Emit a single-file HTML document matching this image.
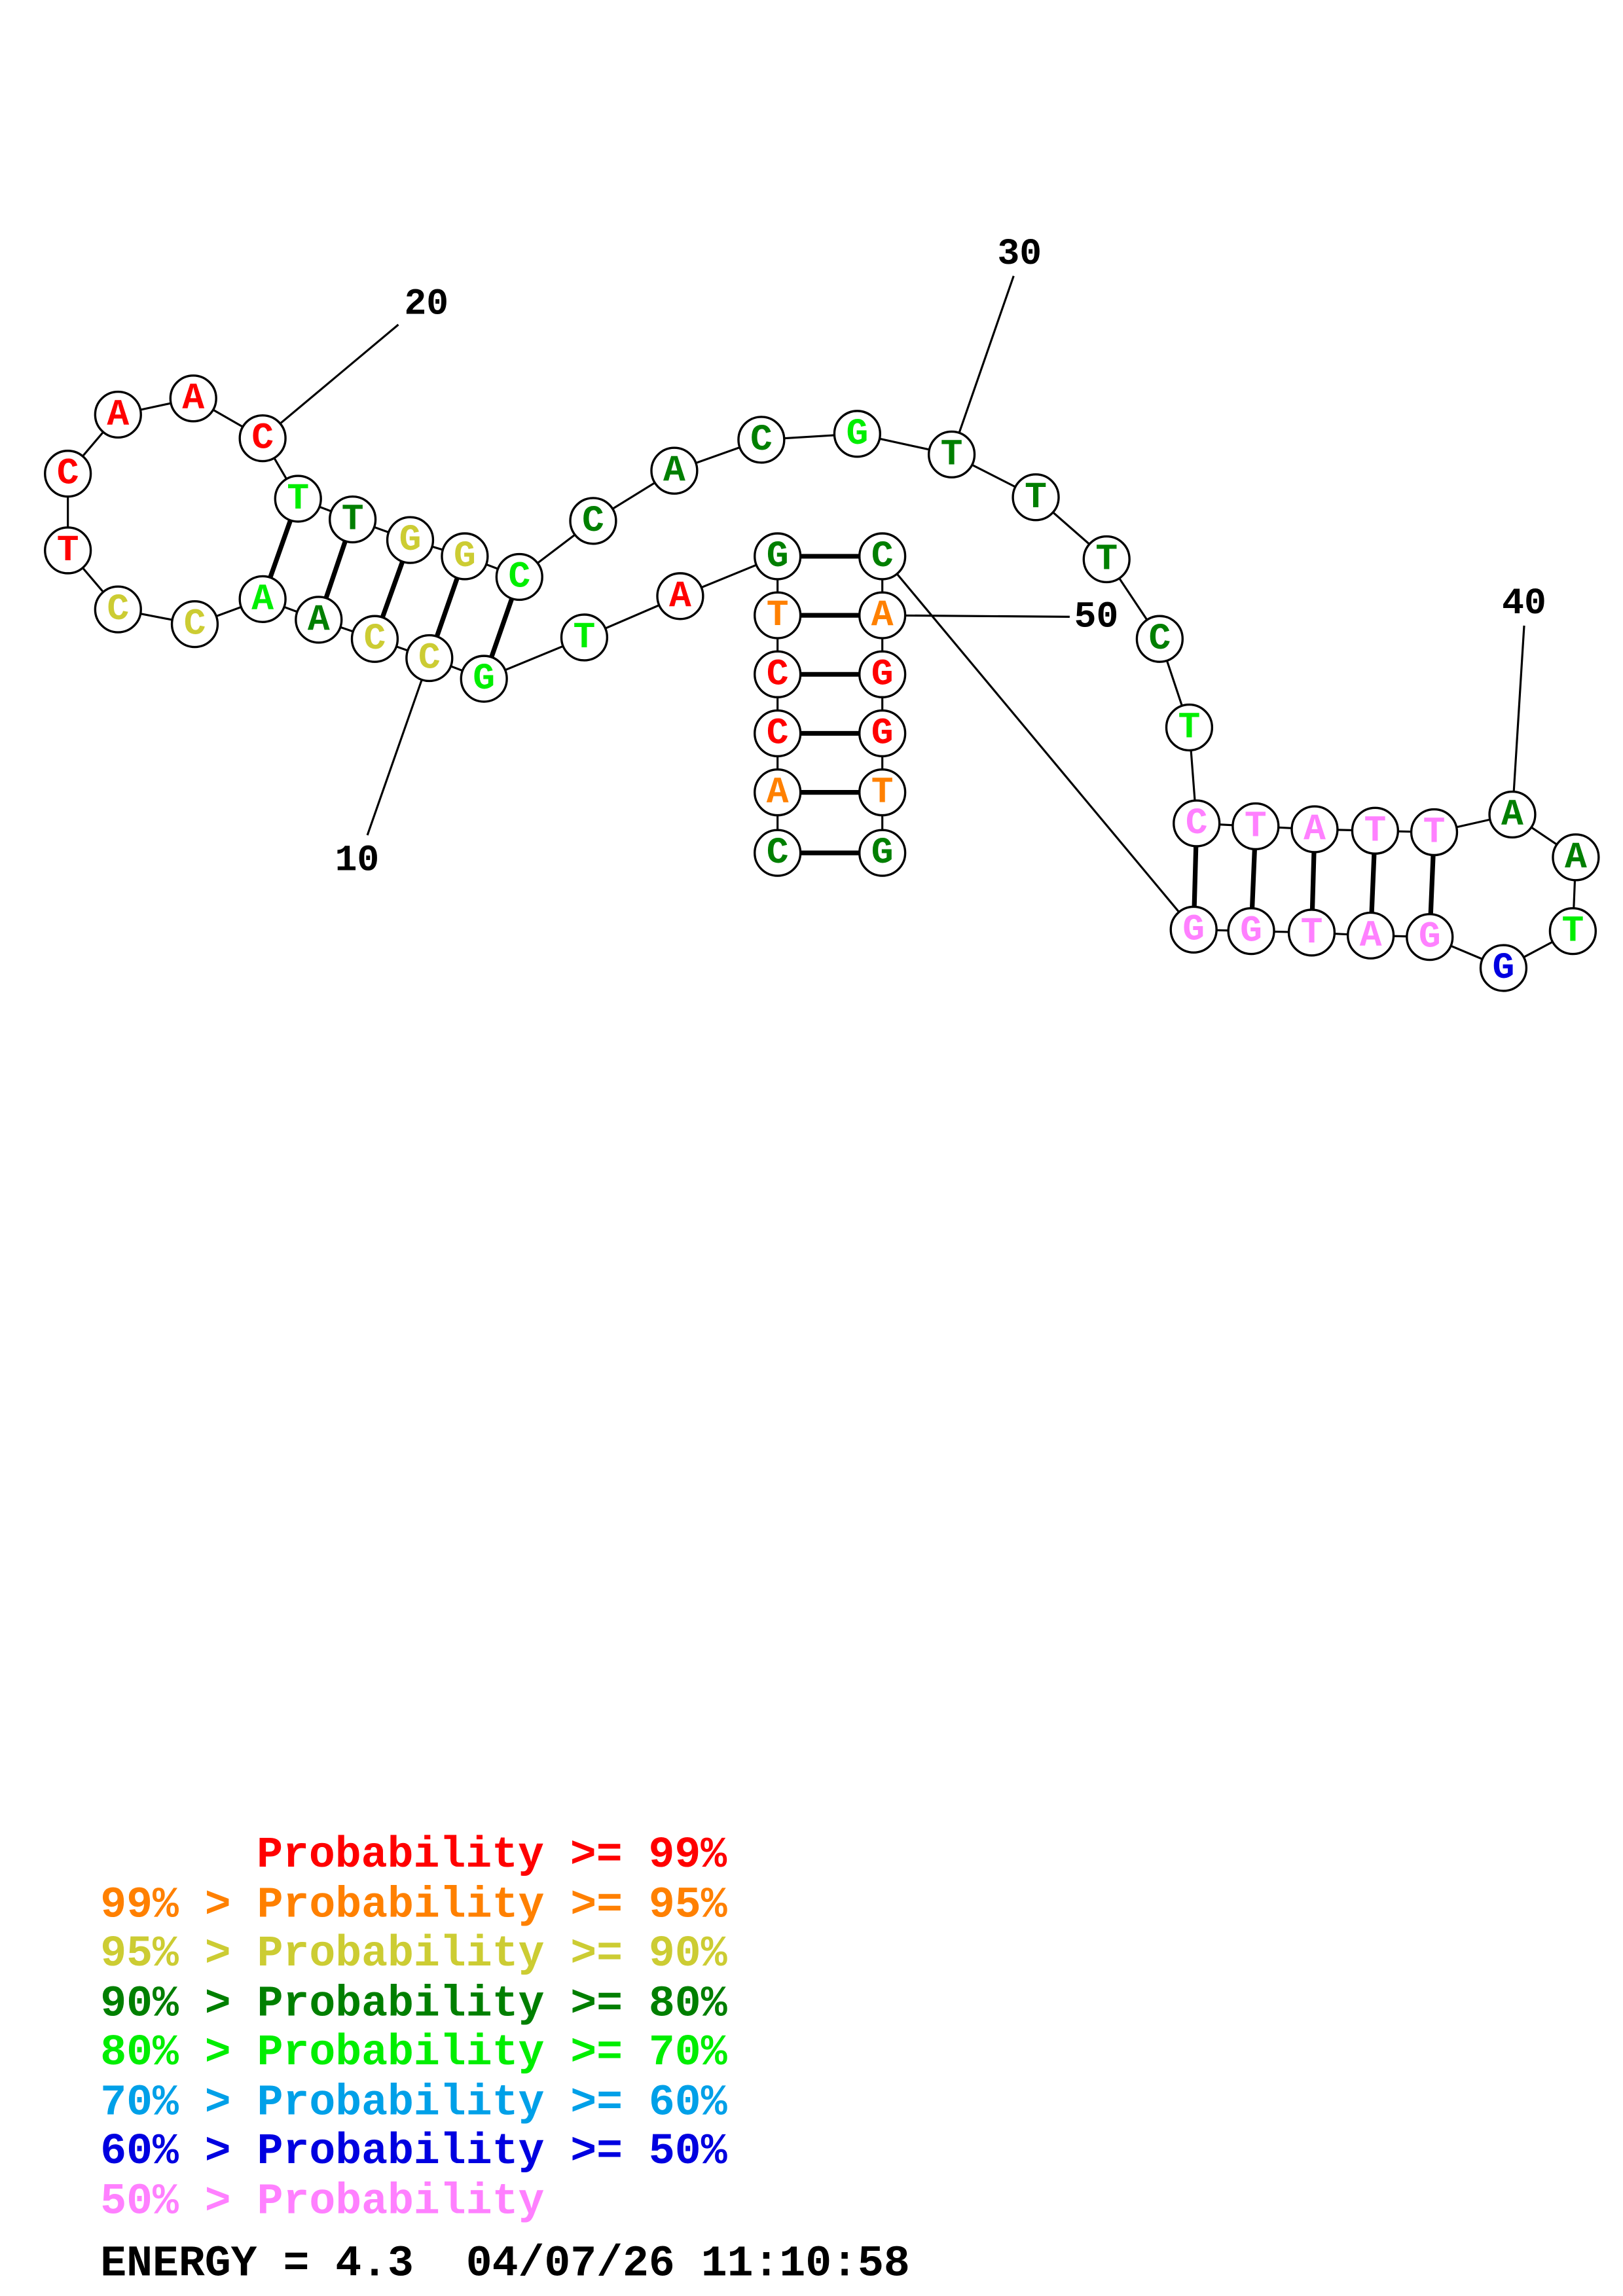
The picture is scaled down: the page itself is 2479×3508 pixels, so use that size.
<!DOCTYPE html>
<html><head><meta charset="utf-8"><style>
html,body{margin:0;padding:0;background:#fff}
svg{display:block}
.n text{font-family:"Liberation Mono",monospace;font-weight:bold;font-size:25px;text-anchor:middle;dominant-baseline:central}
.lg{font-family:"Liberation Mono",monospace;font-weight:bold;font-size:29.5px}
</style></head><body>
<svg width="2479" height="3508" viewBox="0 0 1100 1556" preserveAspectRatio="none" xmlns="http://www.w3.org/2000/svg">
<rect width="1100" height="1556" fill="#fff"/>
<g stroke="#000" stroke-width="1.4" fill="none">
<polyline points="527,578 527,537 527,497 527,457 527,417 527,377 461,404 396,432 328,460 291,446 254,433 216,420 178,406 132,423 80,413 46,373 46,321 80,281 131,270 178,297 202,338 239,352 278,366 315,377 352,391 402,353 457,319 516,298 581,294 645,308 702,337 750,379 786,433 806,493 811,558 851,560 891,562 932,563 972,564 1025,552 1068,581 1066,631 1019,656 969,635 929,634 889,632 848,631 809,630 598,377 598,417 598,457 598,497 598,537 598,578"/>
<line x1="178" y1="297" x2="270" y2="220"/>
<line x1="645" y1="308" x2="687" y2="187"/>
<line x1="1025" y1="552" x2="1033" y2="424"/>
<line x1="598" y1="417" x2="725" y2="418"/>
<line x1="291" y1="446" x2="249" y2="566"/>
</g>
<g stroke="#000" stroke-width="3.2">
<line x1="527" y1="578" x2="598" y2="578"/><line x1="527" y1="537" x2="598" y2="537"/>
<line x1="527" y1="497" x2="598" y2="497"/><line x1="527" y1="457" x2="598" y2="457"/>
<line x1="527" y1="417" x2="598" y2="417"/><line x1="527" y1="377" x2="598" y2="377"/>
<line x1="328" y1="460" x2="352" y2="391"/><line x1="291" y1="446" x2="315" y2="377"/>
<line x1="254" y1="433" x2="278" y2="366"/><line x1="216" y1="420" x2="239" y2="352"/>
<line x1="178" y1="406" x2="202" y2="338"/>
<line x1="811" y1="558" x2="809" y2="630"/><line x1="851" y1="560" x2="848" y2="631"/>
<line x1="891" y1="562" x2="889" y2="632"/><line x1="932" y1="563" x2="929" y2="634"/>
<line x1="972" y1="564" x2="969" y2="635"/>
</g>
<g class="n" stroke="#000" stroke-width="1.5">
<g fill="#fff">
<circle cx="527" cy="578" r="15.5"/><circle cx="527" cy="537" r="15.5"/><circle cx="527" cy="497" r="15.5"/><circle cx="527" cy="457" r="15.5"/><circle cx="527" cy="417" r="15.5"/><circle cx="527" cy="377" r="15.5"/>
<circle cx="461" cy="404" r="15.5"/><circle cx="396" cy="432" r="15.5"/><circle cx="328" cy="460" r="15.5"/><circle cx="291" cy="446" r="15.5"/><circle cx="254" cy="433" r="15.5"/><circle cx="216" cy="420" r="15.5"/><circle cx="178" cy="406" r="15.5"/><circle cx="132" cy="423" r="15.5"/><circle cx="80" cy="413" r="15.5"/><circle cx="46" cy="373" r="15.5"/><circle cx="46" cy="321" r="15.5"/><circle cx="80" cy="281" r="15.5"/><circle cx="131" cy="270" r="15.5"/><circle cx="178" cy="297" r="15.5"/>
<circle cx="202" cy="338" r="15.5"/><circle cx="239" cy="352" r="15.5"/><circle cx="278" cy="366" r="15.5"/><circle cx="315" cy="377" r="15.5"/><circle cx="352" cy="391" r="15.5"/><circle cx="402" cy="353" r="15.5"/><circle cx="457" cy="319" r="15.5"/><circle cx="516" cy="298" r="15.5"/><circle cx="581" cy="294" r="15.5"/><circle cx="645" cy="308" r="15.5"/>
<circle cx="702" cy="337" r="15.5"/><circle cx="750" cy="379" r="15.5"/><circle cx="786" cy="433" r="15.5"/><circle cx="806" cy="493" r="15.5"/><circle cx="811" cy="558" r="15.5"/><circle cx="851" cy="560" r="15.5"/><circle cx="891" cy="562" r="15.5"/><circle cx="932" cy="563" r="15.5"/><circle cx="972" cy="564" r="15.5"/><circle cx="1025" cy="552" r="15.5"/>
<circle cx="1068" cy="581" r="15.5"/><circle cx="1066" cy="631" r="15.5"/><circle cx="1019" cy="656" r="15.5"/><circle cx="969" cy="635" r="15.5"/><circle cx="929" cy="634" r="15.5"/><circle cx="889" cy="632" r="15.5"/><circle cx="848" cy="631" r="15.5"/><circle cx="809" cy="630" r="15.5"/>
<circle cx="598" cy="377" r="15.5"/><circle cx="598" cy="417" r="15.5"/><circle cx="598" cy="457" r="15.5"/><circle cx="598" cy="497" r="15.5"/><circle cx="598" cy="537" r="15.5"/><circle cx="598" cy="578" r="15.5"/>
</g>
<g stroke="none">
<text x="527" y="578" fill="#007f00">C</text><text x="527" y="537" fill="#ff8000">A</text><text x="527" y="497" fill="#ff0000">C</text><text x="527" y="457" fill="#ff0000">C</text><text x="527" y="417" fill="#ff8000">T</text><text x="527" y="377" fill="#007f00">G</text>
<text x="461" y="404" fill="#ff0000">A</text><text x="396" y="432" fill="#00ee00">T</text><text x="328" y="460" fill="#00ee00">G</text><text x="291" y="446" fill="#cccc33">C</text><text x="254" y="433" fill="#cccc33">C</text><text x="216" y="420" fill="#007f00">A</text><text x="178" y="406" fill="#00ee00">A</text><text x="132" y="423" fill="#cccc33">C</text><text x="80" y="413" fill="#cccc33">C</text><text x="46" y="373" fill="#ff0000">T</text><text x="46" y="321" fill="#ff0000">C</text><text x="80" y="281" fill="#ff0000">A</text><text x="131" y="270" fill="#ff0000">A</text><text x="178" y="297" fill="#ff0000">C</text>
<text x="202" y="338" fill="#00ee00">T</text><text x="239" y="352" fill="#007f00">T</text><text x="278" y="366" fill="#cccc33">G</text><text x="315" y="377" fill="#cccc33">G</text><text x="352" y="391" fill="#00ee00">C</text><text x="402" y="353" fill="#007f00">C</text><text x="457" y="319" fill="#007f00">A</text><text x="516" y="298" fill="#007f00">C</text><text x="581" y="294" fill="#00ee00">G</text><text x="645" y="308" fill="#007f00">T</text>
<text x="702" y="337" fill="#007f00">T</text><text x="750" y="379" fill="#007f00">T</text><text x="786" y="433" fill="#007f00">C</text><text x="806" y="493" fill="#00ee00">T</text><text x="811" y="558" fill="#ff80ff">C</text><text x="851" y="560" fill="#ff80ff">T</text><text x="891" y="562" fill="#ff80ff">A</text><text x="932" y="563" fill="#ff80ff">T</text><text x="972" y="564" fill="#ff80ff">T</text><text x="1025" y="552" fill="#007f00">A</text>
<text x="1068" y="581" fill="#007f00">A</text><text x="1066" y="631" fill="#00ee00">T</text><text x="1019" y="656" fill="#0000e0">G</text><text x="969" y="635" fill="#ff80ff">G</text><text x="929" y="634" fill="#ff80ff">A</text><text x="889" y="632" fill="#ff80ff">T</text><text x="848" y="631" fill="#ff80ff">G</text><text x="809" y="630" fill="#ff80ff">G</text>
<text x="598" y="377" fill="#007f00">C</text><text x="598" y="417" fill="#ff8000">A</text><text x="598" y="457" fill="#ff0000">G</text><text x="598" y="497" fill="#ff0000">G</text><text x="598" y="537" fill="#ff8000">T</text><text x="598" y="578" fill="#007f00">G</text>
</g>
</g>
<g font-family="Liberation Mono, monospace" font-weight="bold" font-size="25" text-anchor="middle" dominant-baseline="central" fill="#000">
<text x="289" y="206">20</text><text x="691" y="172">30</text><text x="1033" y="409">40</text><text x="743" y="418">50</text><text x="242" y="583">10</text>
</g>
<g class="lg">
<text x="174" y="1265" fill="#ff0000">Probability &gt;= 99%</text>
<text x="68" y="1299" fill="#ff8000">99% &gt; Probability &gt;= 95%</text>
<text x="68" y="1332" fill="#cccc33">95% &gt; Probability &gt;= 90%</text>
<text x="68" y="1366" fill="#007f00">90% &gt; Probability &gt;= 80%</text>
<text x="68" y="1399" fill="#00ee00">80% &gt; Probability &gt;= 70%</text>
<text x="68" y="1433" fill="#00a0e8">70% &gt; Probability &gt;= 60%</text>
<text x="68" y="1466" fill="#0000e0">60% &gt; Probability &gt;= 50%</text>
<text x="68" y="1500" fill="#ff80ff">50% &gt; Probability</text>
<text x="68" y="1542" fill="#000" xml:space="preserve">ENERGY = 4.3  04/07/26 11:10:58</text>
</g>
</svg>
</body></html>
